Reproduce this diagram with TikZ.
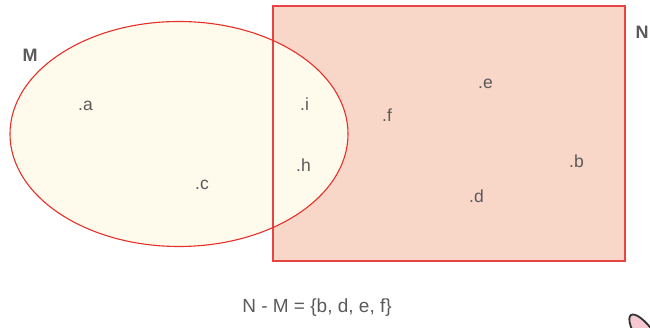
\documentclass[tikz,border=0pt]{standalone}
\usepackage{fontspec}
\setmainfont{Liberation Sans}
\definecolor{rectfill}{HTML}{F9D7C8}
\definecolor{rectline}{HTML}{E84444}
\definecolor{ellfill}{HTML}{FFFBEC}
\definecolor{ellline}{HTML}{E5302A}
\definecolor{txt}{HTML}{5A5A5A}
\definecolor{pinkfill}{HTML}{F6C9D2}
\tikzset{
  elem/.style={anchor=base west, inner sep=0pt, text=txt, font=\fontsize{17.5}{20}\selectfont},
  setname/.style={anchor=center, inner sep=0pt, text=txt, font=\fontsize{18}{21}\selectfont\bfseries},
  formula/.style={anchor=base, inner sep=0pt, text=txt, font=\fontsize{19}{22}\selectfont}
}
\begin{document}
\begin{tikzpicture}[x=1pt,y=1pt]
\useasboundingbox (0,0) rectangle (650,328);
% fills
\fill[rectfill] (273,67) rectangle (625,322);
\fill[ellfill] (179,194) ellipse [x radius=169, y radius=112.5];
% outlines
\draw[rectline, line width=1.3pt] (273,67) rectangle (625,322);
\draw[ellline, line width=1.1pt] (179,194) ellipse [x radius=169, y radius=112.5];
% set names
\node[setname] (M) at (30,272.5) {M};
\node[setname] (N) at (642,296) {N};
% elements
\node[elem] (a) at (78,217) {.a};
\node[elem] (c) at (195,138) {.c};
\node[elem] (i) at (300,217) {.i};
\node[elem] (h) at (296,156) {.h};
\node[elem] (f) at (382,206) {.f};
\node[elem] (e) at (478,239) {.e};
\node[elem] (b) at (569,160) {.b};
\node[elem] (d) at (469,125) {.d};
% formula
\node[formula] (formula) at (317,15) {N - M = \{b, d, e, f\}};
% pencil tip at the corner
\begin{scope}
\clip (0,0) rectangle (650,328);
\draw[fill=pinkfill, draw=black!80, line width=1.8pt, rotate around={-55:(647,-10)}] (647,-10) ellipse [x radius=28, y radius=9];
\end{scope}
\end{tikzpicture}
\end{document}
